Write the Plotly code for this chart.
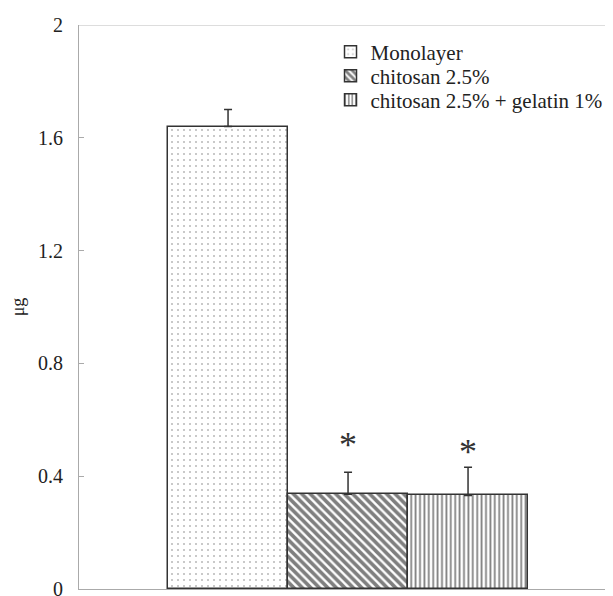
import plotly.graph_objects as go

groups = ["Monolayer", "chitosan 2.5%", "chitosan 2.5% + gelatin 1%"]
positions = [0, 1, 2]
means = [1.64, 0.336, 0.332]
errors = [0.06, 0.078, 0.10]
significance_marker_y = [None, 0.525, 0.50]
y_ticks = [0, 0.4, 0.8, 1.2, 1.6, 2]
y_tick_labels = ["0", "0.4", "0.8", "1.2", "1.6", "2"]

patterns = [
    dict(shape=".", size=6, solidity=0.1, fgcolor="#777777", bgcolor="white"),
    dict(shape="\\", size=6, solidity=0.6, fgcolor="#000000", bgcolor="white"),
    dict(shape="|", size=4.4, solidity=0.4, fgcolor="#000000", bgcolor="white"),
]

FONT = "Liberation Serif, Times New Roman, serif"
legend_ids = ["legend", "legend2", "legend3"]
legend_rows = [0.952, 0.9096, 0.867]

fig = go.Figure()
for i, g in enumerate(groups):
    fig.add_trace(go.Bar(
        x=[positions[i]], y=[means[i]], name=g, width=1, legend=legend_ids[i],
        marker=dict(color="white", pattern=patterns[i],
                    line=dict(color="#333333", width=1.5)),
        error_y=dict(type="data", array=[errors[i]], symmetric=False, arrayminus=[0],
                     color="#333333", thickness=1.5, width=4),
    ))

for i, sy in enumerate(significance_marker_y):
    if sy is not None:
        fig.add_annotation(x=positions[i], y=sy, text="*",
                           showarrow=False, yanchor="bottom", yshift=-26,
                           font=dict(family=FONT, size=36, color="#333333"))

fig.add_shape(type="line", xref="paper", yref="y", x0=0, x1=1, y0=2, y1=2,
              line=dict(color="#bbbbbb", width=1))

legend_common = dict(xanchor="left", yanchor="middle", bgcolor="rgba(0,0,0,0)",
                     font=dict(family=FONT, size=21, color="#222222"),
                     itemwidth=30, borderwidth=0)

layout_legends = {}
for i, lid in enumerate(legend_ids):
    layout_legends[lid] = dict(x=0.471, y=legend_rows[i], **legend_common)

fig.update_layout(
    width=613, height=596,
    margin=dict(l=71, r=8, t=17, b=15),
    plot_bgcolor="white", paper_bgcolor="white",
    font=dict(family=FONT, size=20, color="#222222"),
    showlegend=True,
    bargap=0,
    **layout_legends,
)
fig.update_xaxes(range=[-1.242, 3.208], showticklabels=False, ticks="", showgrid=False,
                 zeroline=False, showline=True, linecolor="#aaaaaa", linewidth=1,
                 automargin=False)
fig.update_yaxes(range=[0, 2], tickvals=y_ticks, ticktext=y_tick_labels, ticks="inside",
                 ticklen=5, tickcolor="#aaaaaa", showgrid=False, zeroline=False,
                 showline=True, linecolor="#aaaaaa", linewidth=1, ticklabelstandoff=11,
                 automargin=False, tickfont=dict(family=FONT, size=20, color="#222222"),
                 title=dict(text="μg", standoff=24, font=dict(family=FONT, size=18)))

fig.write_html("out.html")
